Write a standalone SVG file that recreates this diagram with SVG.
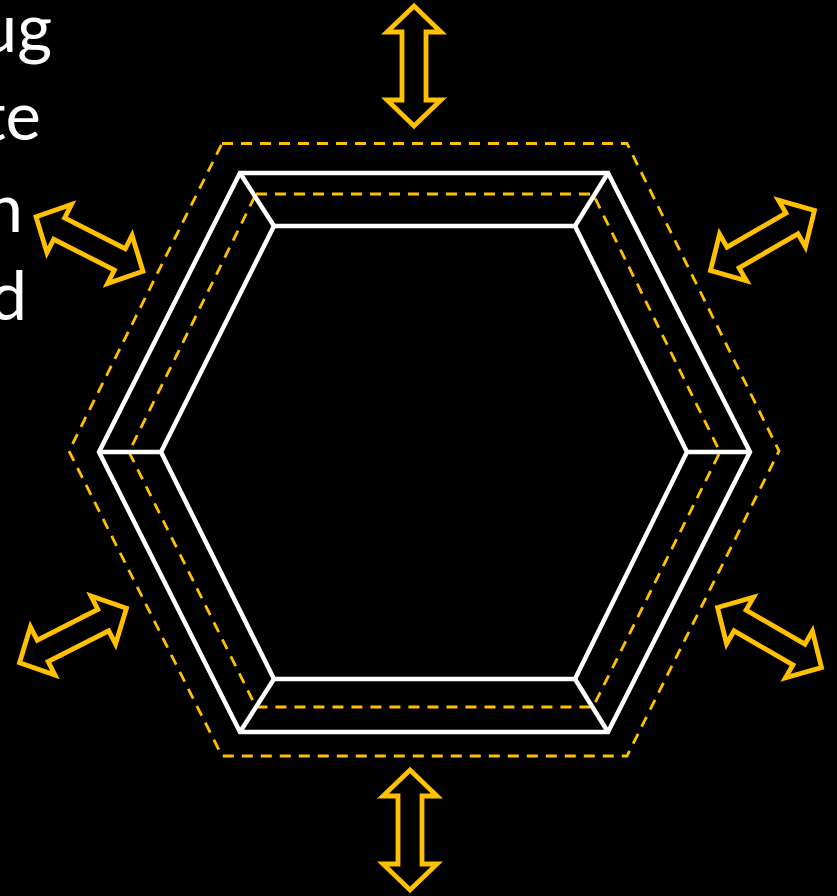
<svg xmlns="http://www.w3.org/2000/svg" width="837" height="896" viewBox="0 0 837 896">
<style>
.txt{font-family:Lato,"Open Sans","Liberation Sans",sans-serif;font-size:67px;fill:#fff;text-anchor:end}
.wl{fill:none;stroke:#fff;stroke-width:4.5;stroke-linejoin:miter}
.dash{fill:none;stroke:#FFC000;stroke-width:2.8;stroke-dasharray:11 8}
.arr{fill:none;stroke:#FFC000;stroke-width:4.8;stroke-linejoin:miter;stroke-miterlimit:10}
</style>
<defs>
<path id="dbl" d="M-60,0 L-34,-27 L-34,-12 L34,-12 L34,-27 L60,0 L34,27 L34,12 L-34,12 L-34,27 Z"/>
</defs>
<rect x="0" y="0" width="837" height="896" fill="#000"/>
<g id="text">
<text class="txt" x="52" y="52">ug</text>
<text class="txt" x="41" y="140">te</text>
<text class="txt" x="23" y="232">n</text>
<text class="txt" x="27" y="320">d</text>
</g>
<g id="outer-dashed"><polygon class="dash" points="222,143.5 627,143.5 779,451 627,756 222,756 69,451"/></g>
<g id="outer-wall"><polygon class="wl" points="240,173 608,173 750,452 608,732 240,732 99,452"/></g>
<g id="inner-dashed"><polygon class="dash" points="256,194 593,194 720,452 593,707 256,707 129,452"/></g>
<g id="inner-wall"><polygon class="wl" points="274,226 575,226 687,452 575,679 274,679 161,452"/></g>
<g id="connectors">
<line class="wl" x1="240" y1="173" x2="274" y2="226"/>
<line class="wl" x1="608" y1="173" x2="575" y2="226"/>
<line class="wl" x1="750" y1="452" x2="687" y2="452"/>
<line class="wl" x1="608" y1="732" x2="575" y2="679"/>
<line class="wl" x1="240" y1="732" x2="274" y2="679"/>
<line class="wl" x1="99" y1="452" x2="161" y2="452"/>
</g>
<g id="arrows">
<g id="arrow-top"><use href="#dbl" class="arr" transform="translate(414,66) rotate(90)"/></g>
<g id="arrow-bottom"><use href="#dbl" class="arr" transform="translate(410,830) rotate(90)"/></g>
<g id="arrow-top-left"><use href="#dbl" class="arr" transform="translate(89.5,244) rotate(27)"/></g>
<g id="arrow-top-right"><use href="#dbl" class="arr" transform="translate(762.5,240.5) rotate(-30)"/></g>
<g id="arrow-bottom-left"><use href="#dbl" class="arr" transform="translate(73,635.5) rotate(-27)"/></g>
<g id="arrow-bottom-right"><use href="#dbl" class="arr" transform="translate(769.5,637.5) rotate(30)"/></g>
</g>
</svg>
